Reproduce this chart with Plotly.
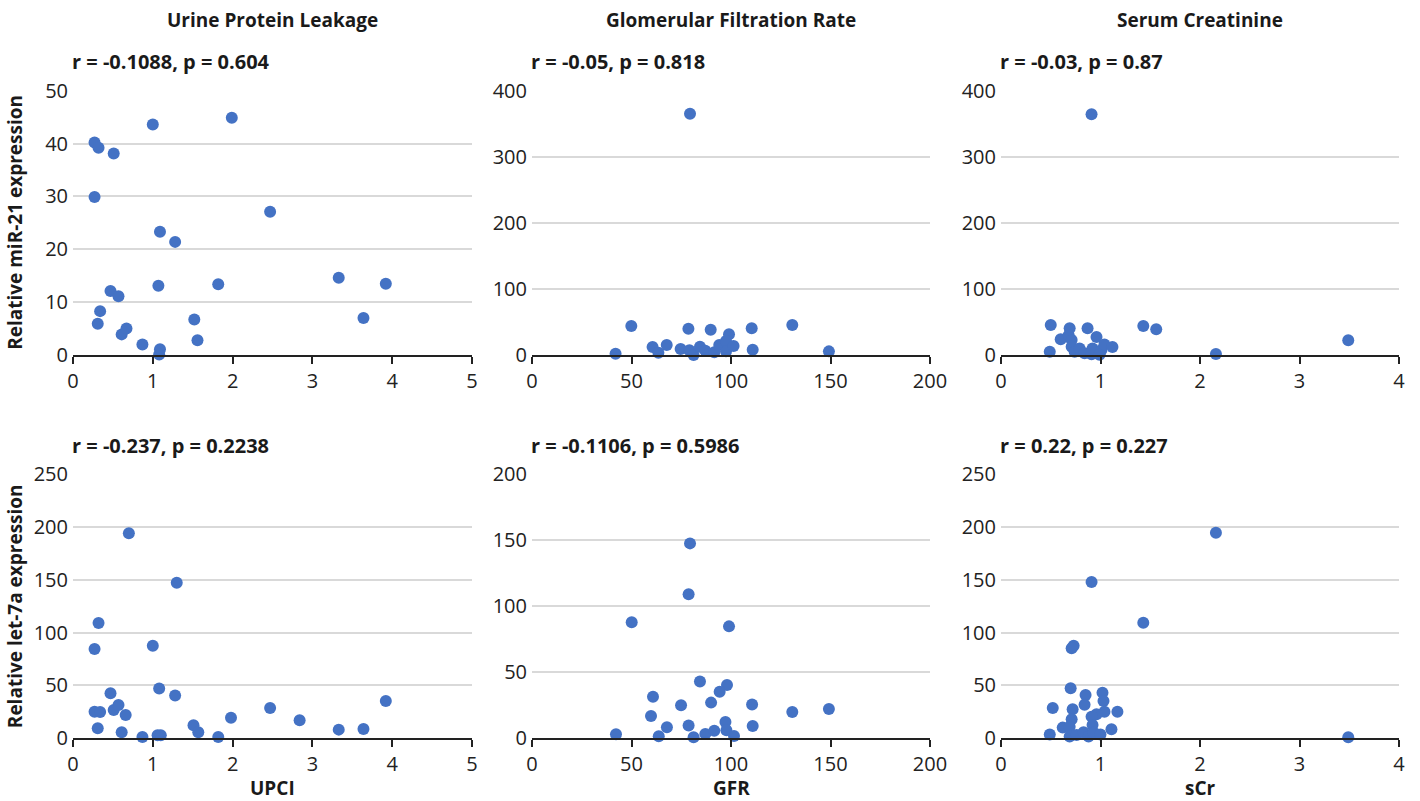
import plotly.graph_objects as go

# ---------------- data ----------------
# Row 1: miR-21 expression
upci_a = [0.27, 0.32, 0.51, 1.00, 1.99, 0.27, 2.47, 1.09, 1.28, 0.47, 0.57, 1.07, 1.82,
          3.33, 3.92, 0.34, 0.31, 0.61, 0.67, 0.87, 1.09, 1.08, 1.52, 1.56, 3.64]
mir21_upci = [40.2, 39.2, 38.1, 43.6, 44.9, 29.9, 27.1, 23.3, 21.4, 12.1, 11.1, 13.1, 13.4,
              14.6, 13.5, 8.3, 5.9, 3.9, 5.0, 2.0, 1.1, 0.1, 6.7, 2.8, 7.0]

gfr_a = [79.4, 49.9, 78.6, 89.8, 110.4, 130.8, 99.0, 42.0, 60.6, 63.5, 67.7, 74.7, 79.1,
         81.2, 84.4, 87.1, 91.6, 94.1, 97.5, 97.5, 101.3, 110.9, 149.2]
mir21_gfr = [365.2, 43.9, 39.8, 38.3, 40.4, 45.4, 31.3, 2.0, 12.1, 3.5, 15.1, 9.1, 7.1,
             0.0, 12.6, 6.6, 4.0, 15.1, 21.2, 5.5, 13.6, 8.1, 5.5]

scr_a = [0.91, 0.50, 0.49, 0.60, 0.69, 0.68, 0.71, 0.71, 0.74, 0.87, 0.96, 0.79, 0.84,
         0.91, 0.92, 1.01, 1.04, 1.12, 0.99, 1.43, 1.56, 2.16, 3.49]
mir21_scr = [364.2, 45.4, 5.0, 23.7, 40.4, 30.0, 22.7, 12.6, 5.0, 40.4, 27.2, 10.0, 2.5,
             1.0, 10.0, 7.6, 16.0, 12.0, 0.5, 43.9, 38.8, 1.5, 22.2]

# Row 2: let-7a expression
upci_b = [0.70, 1.30, 0.32, 0.27, 1.00, 0.47, 1.08, 1.28, 0.27, 0.34, 0.51, 0.57, 0.66,
          0.31, 0.61, 0.87, 1.06, 1.10, 1.51, 1.57, 1.82, 1.98, 2.47, 2.84, 3.33, 3.64, 3.92]
let7a_upci = [193.9, 147.2, 109.1, 84.5, 87.6, 42.6, 47.0, 40.4, 25.2, 24.9, 26.8, 31.5, 22.1,
              9.5, 5.7, 1.3, 2.8, 2.8, 12.3, 5.7, 1.3, 19.5, 28.7, 17.0, 8.2, 8.8, 35.3]

gfr_b = [79.4, 78.7, 50.1, 99.0, 84.4, 98.0, 94.3, 60.8, 74.9, 90.0, 110.6, 130.8, 149.2,
         59.8, 67.8, 78.7, 97.2, 97.7, 110.9, 42.2, 63.7, 81.2, 87.1, 91.6, 101.5]
let7a_gfr = [147.5, 109.0, 87.8, 84.7, 42.9, 40.4, 35.3, 31.5, 25.0, 27.0, 25.5, 19.9, 22.2,
             16.9, 8.3, 9.6, 12.4, 6.1, 9.3, 3.0, 1.5, 0.8, 3.3, 5.8, 1.8]

scr_b = [2.16, 0.91, 1.43, 0.73, 0.71, 0.70, 1.02, 0.85, 1.03, 0.84, 0.52, 0.72, 1.17,
         1.04, 0.96, 0.91, 0.71, 0.92, 0.62, 0.69, 1.11, 0.49, 0.69, 0.76, 0.83, 0.88,
         0.93, 1.00, 3.49]
let7a_scr = [194.5, 147.9, 109.4, 87.6, 85.1, 47.3, 43.2, 41.0, 35.3, 31.8, 28.7, 27.4, 25.2,
             25.2, 22.7, 20.5, 18.0, 12.6, 10.1, 11.0, 8.5, 3.5, 1.6, 3.2, 5.7, 1.6,
             5.4, 3.5, 0.9]

column_titles = ["Urine Protein Leakage", "Glomerular Filtration Rate", "Serum Creatinine"]
x_titles = ["UPCI", "GFR", "sCr"]
y_titles = ["Relative miR-21 expression", "Relative let-7a expression"]
stats = ["r = -0.1088, p = 0.604", "r = -0.05, p = 0.818", "r = -0.03, p = 0.87",
         "r = -0.237, p = 0.2238", "r = -0.1106, p = 0.5986", "r = 0.22, p = 0.227"]

x_ranges = [[0, 5], [0, 200], [0, 4]]
x_dticks = [1, 50, 1]
y_ranges = [[[0, 50], 10], [[0, 400], 100], [[0, 400], 100],
            [[0, 250], 50], [[0, 200], 50], [[0, 250], 50]]

series = [(upci_a, mir21_upci), (gfr_a, mir21_gfr), (scr_a, mir21_scr),
          (upci_b, let7a_upci), (gfr_b, let7a_gfr), (scr_b, let7a_scr)]

# ---------------- layout geometry ----------------
W, H = 1420, 801
col_px = [(73, 472), (532, 930), (1001, 1399)]
row_px = [(90.7, 355.0), (474.0, 738.3)]

FONT = "Open Sans"
TXT = "#222222"
BOLD = "#1a1a1a"
BLUE = "#4472C4"

fig = go.Figure()
layout = dict(
    template="none",
    width=W, height=H,
    margin=dict(l=0, r=0, t=0, b=0, pad=0, autoexpand=False),
    paper_bgcolor="white", plot_bgcolor="white",
    showlegend=False,
    font=dict(family=FONT, size=20, color=TXT),
)
annotations = []

for i, (xs, ys) in enumerate(series):
    r, c = divmod(i, 3)
    n = i + 1
    xa = "x" if n == 1 else f"x{n}"
    ya = "y" if n == 1 else f"y{n}"
    fig.add_trace(go.Scatter(
        x=xs, y=ys, mode="markers", xaxis=xa, yaxis=ya,
        marker=dict(color=BLUE, size=12, line=dict(width=0)),
        cliponaxis=False, hoverinfo="x+y",
    ))
    x0, x1 = col_px[c]
    top, bot = row_px[r]
    xdom = [x0 / W, x1 / W]
    ydom = [(H - bot) / H, (H - top) / H]
    yr, ydt = y_ranges[i]
    layout["xaxis" if n == 1 else f"xaxis{n}"] = dict(
        domain=xdom, range=x_ranges[c], dtick=x_dticks[c], tick0=0,
        showline=True, linecolor="#222222", linewidth=1.6,
        ticks="outside", ticklen=7, tickwidth=1.6, tickcolor="#222222",
        showgrid=False, zeroline=False, anchor=ya, automargin=False,
        tickfont=dict(family=FONT, size=20, color=TXT),
        fixedrange=True,
    )
    layout["yaxis" if n == 1 else f"yaxis{n}"] = dict(
        domain=ydom, range=yr, dtick=ydt, tick0=0,
        showline=False, showgrid=True, gridcolor="#d9d9d9", gridwidth=1.5,
        zeroline=False, ticks="", anchor=xa, automargin=False,
        ticklabelstandoff=4,
        tickfont=dict(family=FONT, size=20, color=TXT),
        fixedrange=True,
    )
    # stats annotation
    annotations.append(dict(
        text=f"<b>{stats[i]}</b>", xref="paper", yref="paper",
        x=(x0 - 3) / W, y=(H - (top - 29)) / H, xanchor="left", yanchor="middle",
        showarrow=False, font=dict(family=FONT, size=20, color=BOLD),
    ))

for c in range(3):
    x0, x1 = col_px[c]
    annotations.append(dict(
        text=f"<b>{column_titles[c]}</b>", xref="paper", yref="paper",
        x=(x0 + x1) / 2 / W, y=(H - 20) / H, xanchor="center", yanchor="middle",
        showarrow=False, font=dict(family=FONT, size=19, color=BOLD),
    ))
    annotations.append(dict(
        text=f"<b>{x_titles[c]}</b>", xref="paper", yref="paper",
        x=(x0 + x1) / 2 / W, y=(H - 788) / H, xanchor="center", yanchor="middle",
        showarrow=False, font=dict(family=FONT, size=19, color=BOLD),
    ))

for r in range(2):
    top, bot = row_px[r]
    annotations.append(dict(
        text=f"<b>{y_titles[r]}</b>", xref="paper", yref="paper",
        x=15 / W, y=(H - (top + bot) / 2) / H, xanchor="center", yanchor="middle",
        textangle=-90, showarrow=False,
        font=dict(family=FONT, size=19, color=BOLD),
    ))

layout["annotations"] = annotations
fig.update_layout(**layout)
fig.write_html("out.html")
